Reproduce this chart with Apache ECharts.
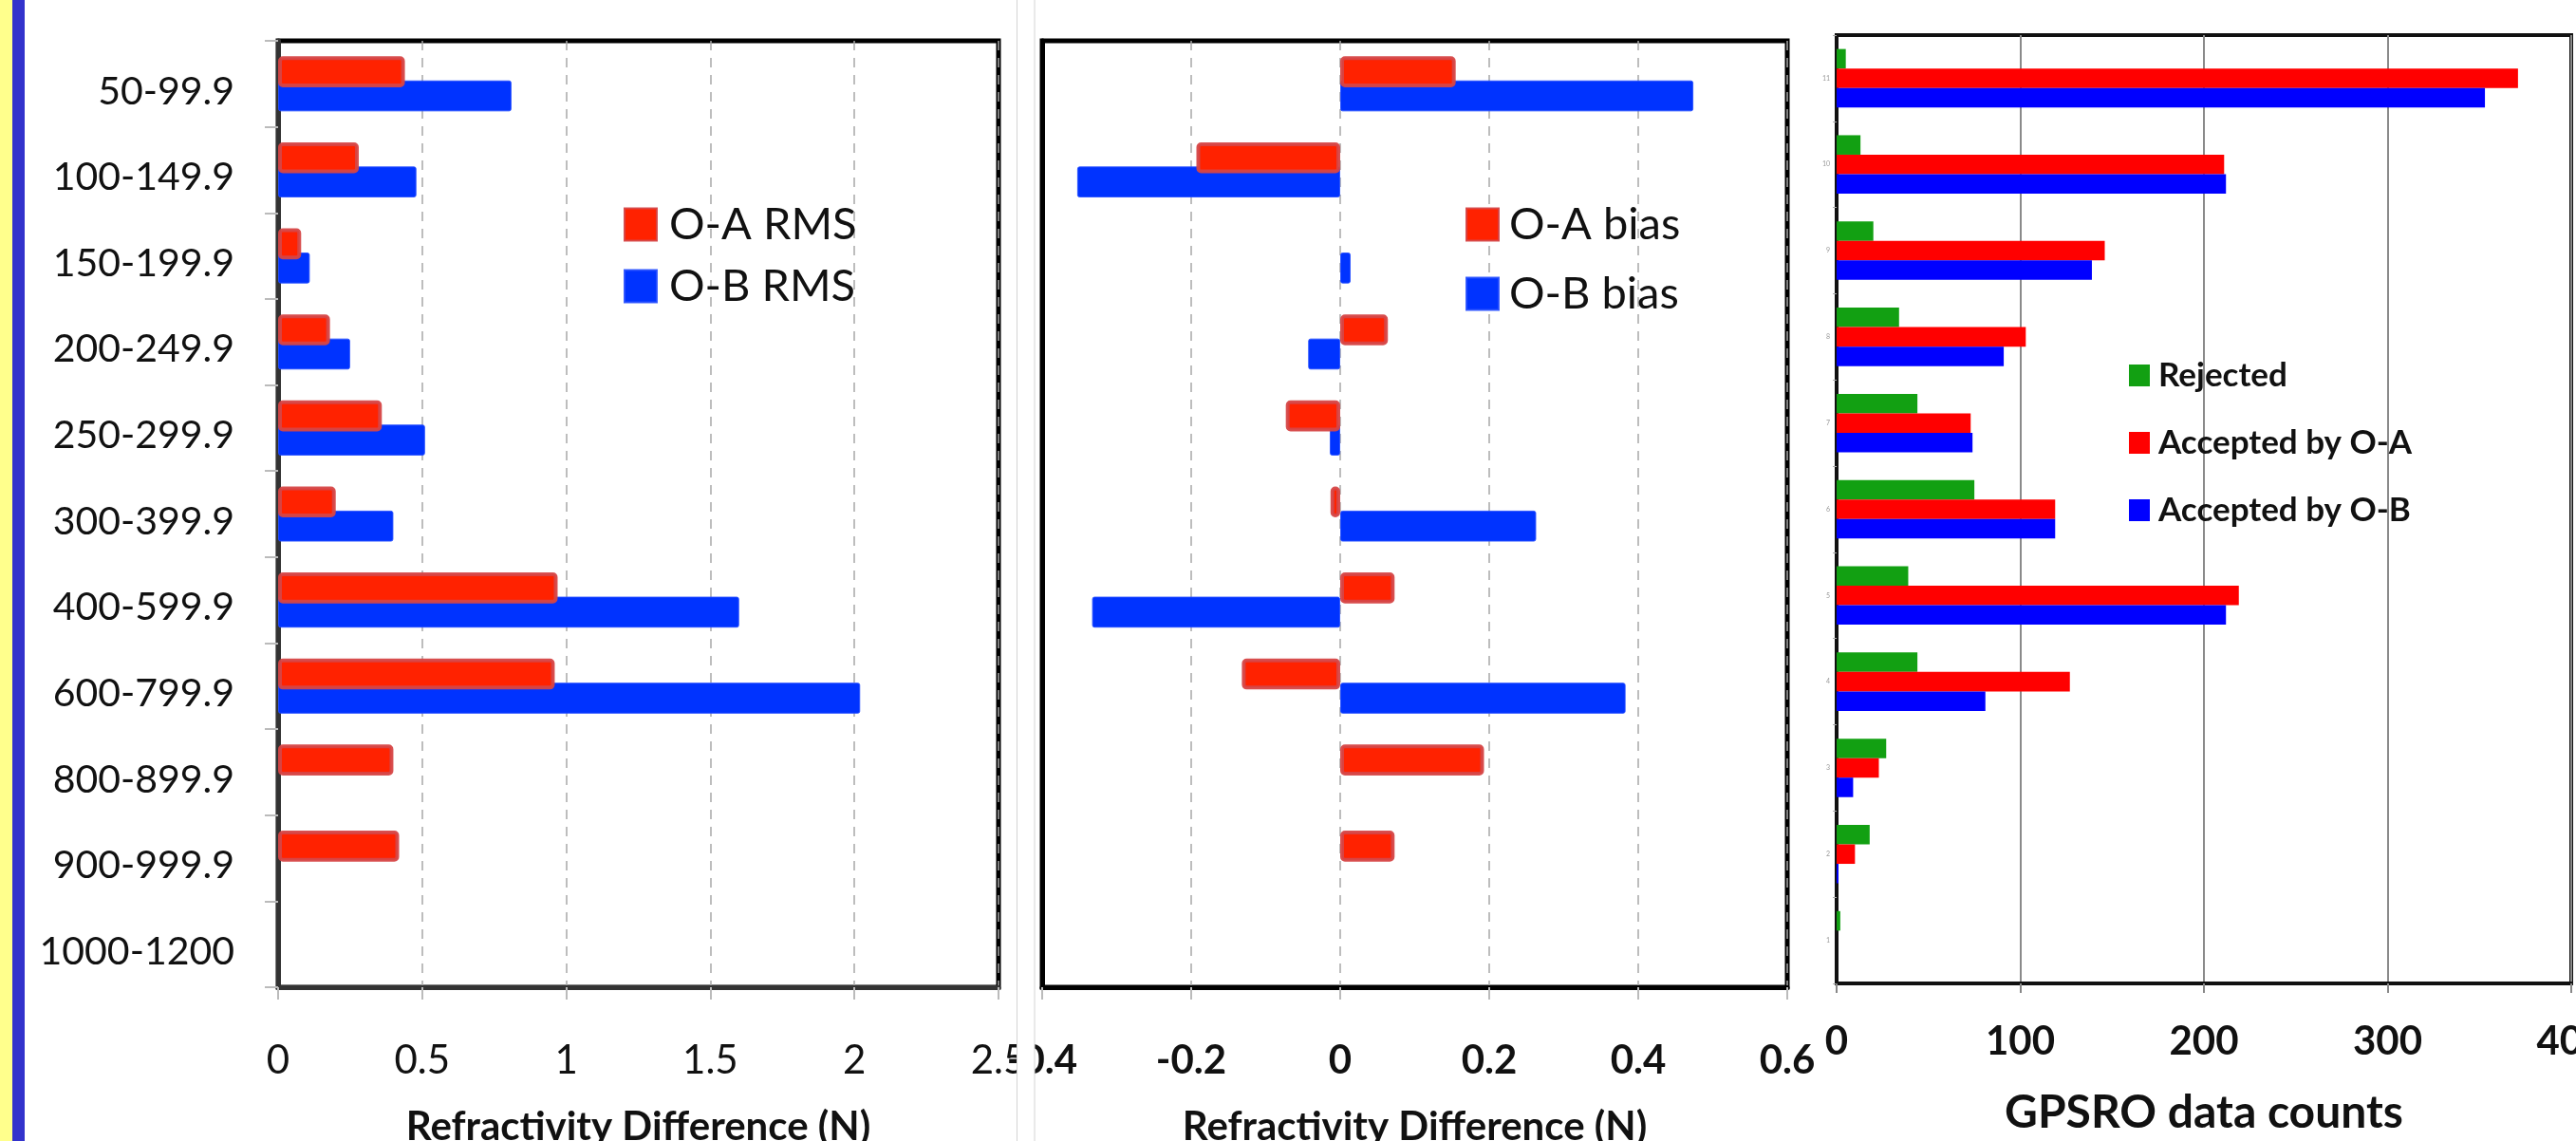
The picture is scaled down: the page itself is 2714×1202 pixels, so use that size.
<!DOCTYPE html>
<html><head><meta charset="utf-8">
<script src="https://cdn.jsdelivr.net/npm/echarts@6/dist/echarts.min.js"></script>
<style>html,body{margin:0;padding:0;background:#fff;}#c{width:2714px;height:1202px;}</style>
</head><body><div id="c"></div>
<script>
// ---------- data ----------
const categories = ['50-99.9','100-149.9','150-199.9','200-249.9','250-299.9','300-399.9','400-599.9','600-799.9','800-899.9','900-999.9','1000-1200'];
const countCategories = ['11','10','9','8','7','6','5','4','3','2','1'];

const oaRms  = [0.44, 0.28, 0.08, 0.18, 0.36, 0.20, 0.97, 0.96, 0.40, 0.42, null];
const obRms  = [0.81, 0.48, 0.11, 0.25, 0.51, 0.40, 1.60, 2.02, null, null, null];

const oaBias = [0.155, -0.193, null, 0.064, -0.073, -0.013, 0.073, -0.132, 0.193, 0.073, null];
const obBias = [0.474, -0.353, 0.014, -0.043, -0.014, 0.263, -0.333, 0.383, null, null, null];

const rejected = [5, 13, 20, 34, 44, 75, 39, 44, 27, 18, 2];
const accOA    = [371, 211, 146, 103, 73, 119, 219, 127, 23, 10, 0];
const accOB    = [353, 212, 139, 91, 74, 119, 212, 81, 9, 1, 0];

const rmsTicks   = ['0','0.5','1','1.5','2','2.5'];
const biasTicks  = ['-0.4','-0.2','0','0.2','0.4','0.6'];
const countTicks = ['0','100','200','300','400'];

// ---------- helpers ----------
function axisRange(ticks){
  const v = ticks.map(Number);
  return {min: v[0], max: v[v.length-1], interval: +(v[1]-v[0]).toFixed(6)};
}
function tickFmt(ticks){
  return function(val){
    for (const t of ticks){ if (Math.abs(Number(t)-val) < 1e-6) return t; }
    return '';
  };
}
const FONT = 'Lato';
const rmsR = axisRange(rmsTicks), biasR = axisRange(biasTicks), cntR = axisRange(countTicks);

const redStyle  = {color:'#ff2200', borderColor:'rgba(214,70,70,0.95)', borderWidth:4, borderRadius:3};
const blueStyle = {color:'#0033ff', borderColor:'rgba(40,80,255,0.9)', borderWidth:1, borderRadius:2};

const dashedGrid = {show:true, lineStyle:{type:[10,8], color:'#a8a8a8', width:1.5}};

const chart = echarts.init(document.getElementById('c'), null, {renderer:'canvas'});
chart.setOption({
  animation:false,
  backgroundColor:'#ffffff',
  grid:[
    {left:293, top:43, width:759, height:997, show:true, borderColor:'#000', borderWidth:5, containLabel:false, outerBoundsMode:'none'},
    {left:1098, top:43, width:785, height:997, show:true, borderColor:'#000', borderWidth:5, containLabel:false, outerBoundsMode:'none'},
    {left:1935, top:37, width:774, height:999, show:true, borderColor:'#111', borderWidth:4, containLabel:false, outerBoundsMode:'none'}
  ],
  legend:[
    {data:['O-A RMS','O-B RMS'], orient:'vertical', left:657, top:213, padding:0,
     icon:'rect', itemWidth:34, itemHeight:34, itemGap:18,
     textStyle:{fontSize:47, fontFamily:FONT, color:'#111', padding:[0,0,0,8]}},
    {data:['O-A bias','O-B bias'], orient:'vertical', left:1544, top:213, padding:0,
     icon:'rect', itemWidth:34, itemHeight:34, itemGap:26,
     textStyle:{fontSize:47, fontFamily:FONT, color:'#111', padding:[0,0,0,6]}},
    {data:['Rejected','Accepted by O-A','Accepted by O-B'], orient:'vertical', left:2243, top:378, padding:0,
     icon:'rect', itemWidth:22, itemHeight:23, itemGap:36,
     textStyle:{fontSize:35, fontWeight:'bold', fontFamily:FONT, color:'#111', padding:[0,0,0,4]}}
  ],
  xAxis:[
    {gridIndex:0, type:'value', min:rmsR.min, max:rmsR.max, interval:rmsR.interval,
     axisLine:{show:true, lineStyle:{color:'#333', width:5}},
     axisTick:{show:true, length:13, lineStyle:{color:'#bbb', width:2}},
     axisLabel:{margin:56, fontSize:42, fontFamily:FONT, color:'#111', formatter:tickFmt(rmsTicks)},
     splitLine:dashedGrid,
     name:'Refractivity Difference (N)', nameLocation:'middle', nameGap:126,
     nameTextStyle:{fontSize:42, fontWeight:'bold', fontFamily:FONT, color:'#111'}},
    {gridIndex:1, type:'value', min:biasR.min, max:biasR.max, interval:biasR.interval,
     axisLine:{show:true, lineStyle:{color:'#000', width:5}},
     axisTick:{show:true, length:13, lineStyle:{color:'#bbb', width:2}},
     axisLabel:{margin:56, fontSize:42, fontWeight:'bold', fontFamily:FONT, color:'#111', formatter:tickFmt(biasTicks)},
     splitLine:dashedGrid,
     name:'Refractivity Difference (N)', nameLocation:'middle', nameGap:126,
     nameTextStyle:{fontSize:42, fontWeight:'bold', fontFamily:FONT, color:'#111'}},
    {gridIndex:2, type:'value', min:cntR.min, max:cntR.max, interval:cntR.interval,
     axisLine:{show:true, lineStyle:{color:'#111', width:4}},
     axisTick:{show:true, length:10, lineStyle:{color:'#888', width:2}},
     axisLabel:{margin:40, fontSize:42, fontWeight:'bold', fontFamily:FONT, color:'#111', formatter:tickFmt(countTicks)},
     splitLine:{show:true, lineStyle:{type:'solid', color:'#8a8a8a', width:2}},
     name:'GPSRO data counts', nameLocation:'middle', nameGap:113,
     nameTextStyle:{fontSize:48, fontWeight:'bold', fontFamily:FONT, color:'#111'}}
  ],
  yAxis:[
    {gridIndex:0, type:'category', data:categories, inverse:true,
     axisLine:{show:true, onZero:false, lineStyle:{color:'#333', width:5}},
     axisTick:{show:true, length:14, lineStyle:{color:'#bbb', width:2}},
     axisLabel:{margin:46, fontSize:41, fontFamily:FONT, color:'#111', verticalAlign:'top', lineHeight:16},
     splitLine:{show:false}},
    {gridIndex:1, type:'category', data:categories, inverse:true,
     axisLine:{show:true, onZero:false, lineStyle:{color:'#000', width:5}},
     axisTick:{show:false}, axisLabel:{show:false}, splitLine:{show:false}},
    {gridIndex:2, type:'category', data:countCategories, inverse:true,
     axisLine:{show:true, onZero:false, lineStyle:{color:'#111', width:4}},
     axisTick:{show:true, length:4, lineStyle:{color:'#aaa', width:1}},
     axisLabel:{margin:7, fontSize:7, fontFamily:FONT, color:'#999'},
     splitLine:{show:false}}
  ],
  series:[
    {type:'bar', name:'O-A RMS', xAxisIndex:0, yAxisIndex:0, data:oaRms, z:3,
     barWidth:'36%', barGap:'-22%', itemStyle:redStyle, emphasis:{disabled:true}},
    {type:'bar', name:'O-B RMS', xAxisIndex:0, yAxisIndex:0, data:obRms, z:2,
     barWidth:'36%', barGap:'-22%', itemStyle:blueStyle, emphasis:{disabled:true}},
    {type:'bar', name:'O-A bias', xAxisIndex:1, yAxisIndex:1, data:oaBias, z:3,
     barWidth:'36%', barGap:'-22%', itemStyle:redStyle, emphasis:{disabled:true}},
    {type:'bar', name:'O-B bias', xAxisIndex:1, yAxisIndex:1, data:obBias, z:2,
     barWidth:'36%', barGap:'-22%', itemStyle:blueStyle, emphasis:{disabled:true}},
    {type:'bar', name:'Rejected', xAxisIndex:2, yAxisIndex:2, data:rejected,
     barWidth:'22.6%', barGap:'0%', itemStyle:{color:'#12a012'}, emphasis:{disabled:true}},
    {type:'bar', name:'Accepted by O-A', xAxisIndex:2, yAxisIndex:2, data:accOA,
     barWidth:'22.6%', barGap:'0%', itemStyle:{color:'#ff0000'}, emphasis:{disabled:true}},
    {type:'bar', name:'Accepted by O-B', xAxisIndex:2, yAxisIndex:2, data:accOB,
     barWidth:'22.6%', barGap:'0%', itemStyle:{color:'#0000ff'}, emphasis:{disabled:true}}
  ],
  graphic:[
    {type:'rect', z:100, shape:{x:0, y:0, width:13, height:1202}, style:{fill:'#ffff8c'}},
    {type:'rect', z:100, shape:{x:13, y:0, width:13, height:1202}, style:{fill:'#3333cc'}},
    {type:'rect', z:100, shape:{x:1071.5, y:-2, width:18.5, height:1210}, style:{fill:'#ffffff', stroke:'#d4d4d4', lineWidth:1}}
  ]
});
</script>
</body></html>
